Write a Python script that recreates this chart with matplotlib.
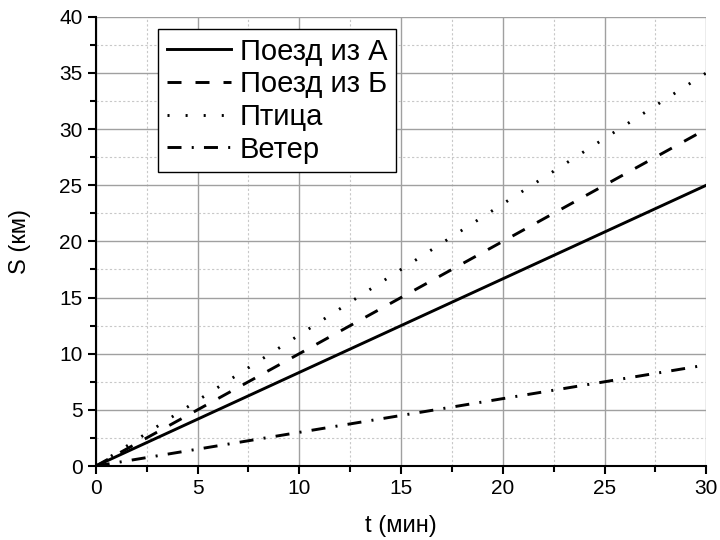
import matplotlib
matplotlib.use("Agg")
import matplotlib.pyplot as plt
from matplotlib.ticker import MultipleLocator

plt.rcParams['font.family'] = ['Liberation Sans', 'DejaVu Sans']

# время, мин
t_min = [0, 30]
# путь, км
poezd_a = [0, 25]
poezd_b = [0, 30]
ptica = [0, 35]
veter = [0, 9]
nazvaniya = ["Поезд из А", "Поезд из Б", "Птица", "Ветер"]

fig = plt.figure(figsize=(7.2, 5.4), dpi=100)
ax = fig.add_axes([0.133, 0.137, 0.848, 0.832])

lw = 2.1
ax.plot(t_min, poezd_a, color="black", lw=lw, label=nazvaniya[0])
ax.plot(t_min, poezd_b, color="black", lw=lw, dashes=(4.8, 4.8), label=nazvaniya[1])
ax.plot(t_min, ptica, color="black", lw=lw, dashes=(0.7, 5.5), label=nazvaniya[2])
ax.plot(t_min, veter, color="black", lw=lw, dashes=(4.8, 3.5, 0.7, 3.5), label=nazvaniya[3])

ax.set_xlim(0, 30)
ax.set_ylim(0, 40)
ax.xaxis.set_major_locator(MultipleLocator(5))
ax.xaxis.set_minor_locator(MultipleLocator(2.5))
ax.yaxis.set_major_locator(MultipleLocator(5))
ax.yaxis.set_minor_locator(MultipleLocator(2.5))

ax.grid(which="major", color="#a0a0a0", lw=1, ls="-")
ax.grid(which="minor", color="#c8c8c8", lw=0.8, ls=(0, (2, 2)))
ax.set_axisbelow(True)

for s in ["top", "right"]:
    ax.spines[s].set_visible(False)
for s in ["left", "bottom"]:
    ax.spines[s].set_linewidth(1.5)

ax.tick_params(which="major", direction="out", length=6, width=1.5, labelsize=15)
ax.tick_params(which="minor", direction="out", length=4, width=1.5)

ax.set_xlabel("t (мин)", fontsize=17, labelpad=12)
ax.set_ylabel("S (км)", fontsize=17, labelpad=20)

leg = ax.legend(loc="upper left", bbox_to_anchor=(0.102, 0.973), fontsize=21,
                frameon=True, fancybox=False, edgecolor="black", framealpha=1,
                handlelength=2.2, handletextpad=0.3, labelspacing=0.16,
                borderpad=0.3, borderaxespad=0)
leg.get_frame().set_linewidth(1)

fig.savefig("out.png", dpi=100)
